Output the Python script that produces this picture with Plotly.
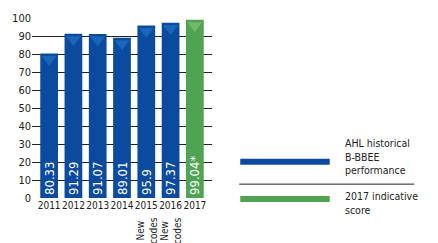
import plotly.graph_objects as go

years = ["2011", "2012", "2013", "2014", "2015", "2016", "2017"]
scores = [80.33, 91.29, 91.07, 89.01, 95.9, 97.37, 99.04]
labels = ["80.33", "91.29", "91.07", "89.01", "95.9", "97.37", "99.04*"]
colors = ["#0a4ba0"] * 6 + ["#4fa353"]
tri_colors = ["#1f6fc0"] * 6 + ["#7cbf74"]
new_code_years = ["2015", "2016"]
legend_names = ["AHL historical<br>B-BBEE<br>performance", "2017 indicative<br>score"]
yticks = list(range(0, 101, 10))

FONT = "DejaVu Sans Condensed, Liberation Sans, sans-serif"

fig = go.Figure()
fig.add_trace(go.Bar(
    x=years, y=scores, marker=dict(color=colors, line=dict(width=0)),
    text=labels, textposition="inside", insidetextanchor="start", textangle=-90,
    constraintext="none",
    textfont=dict(color="white", size=13, family=FONT),
    showlegend=False, hoverinfo="skip",
))
fig.add_trace(go.Scatter(
    x=years, y=[s - 3.2 for s in scores], mode="markers",
    marker=dict(symbol="triangle-down", size=13, color=tri_colors, opacity=0.75,
                line=dict(width=0)),
    showlegend=False, hoverinfo="skip", cliponaxis=False,
))

for y in new_code_years:
    fig.add_annotation(x=years.index(y), xref="x", y=-0.095, yref="paper", yanchor="top",
                       text="New<br>codes", textangle=-90, showarrow=False,
                       font=dict(size=10, color="#222", family=FONT))

# legend
fig.add_shape(type="line", xref="paper", yref="paper", x0=1.157, x1=1.654, y0=0.202, y1=0.202,
              line=dict(color="#0a4ba0", width=6))
fig.add_shape(type="line", xref="paper", yref="paper", x0=1.157, x1=1.654, y0=-0.005, y1=-0.005,
              line=dict(color="#4fa353", width=6))
fig.add_shape(type="line", xref="paper", yref="paper", x0=1.151, x1=2.124, y0=0.077, y1=0.077,
              line=dict(color="#222", width=1))
fig.add_annotation(x=1.73, xref="paper", y=0.35, yref="paper", xanchor="left", yanchor="top",
                   text=legend_names[0], showarrow=False, align="left",
                   font=dict(size=10.5, color="#222", family=FONT))
fig.add_annotation(x=1.73, xref="paper", y=0.055, yref="paper", xanchor="left", yanchor="top",
                   text=legend_names[1], showarrow=False, align="left",
                   font=dict(size=10.5, color="#222", family=FONT))

fig.update_layout(
    width=438, height=243, margin=dict(l=27, r=226, t=15, b=45),
    paper_bgcolor="white", plot_bgcolor="white",
    bargap=0.27,
    font=dict(family=FONT, color="#222", size=12),
    xaxis=dict(type="category", showgrid=False, showline=False, ticks="", tickangle=0,
               tickfont=dict(size=10), fixedrange=True),
    yaxis=dict(range=[0, 100], tickvals=yticks, showgrid=True, gridcolor="#222", gridwidth=1.3,
               zeroline=False, showline=False, ticks="", tickfont=dict(size=11), fixedrange=True),
)
fig.write_html("out.html")
